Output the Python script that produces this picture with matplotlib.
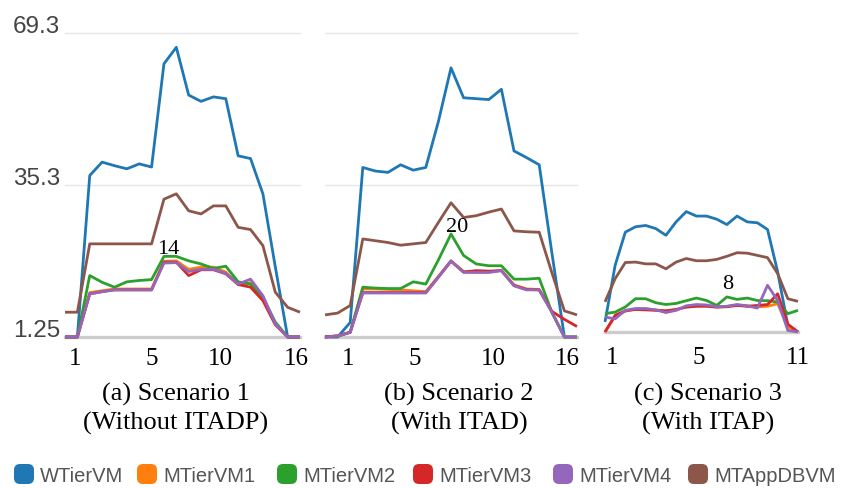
import numpy as np
import matplotlib
matplotlib.use('Agg')
import matplotlib.pyplot as plt
from matplotlib.patches import FancyBboxPatch

# ---------------- data ----------------
series_names = ['WTierVM', 'MTierVM1', 'MTierVM2', 'MTierVM3', 'MTierVM4', 'MTAppDBVM']
colors = ['#1f77b4', '#ff7f0e', '#2ca02c', '#d62728', '#9467bd', '#8c564b']

ytick_vals = [69.3, 35.3, 1.25]
ytick_labels = ['69.3', '35.3', '1.25']

# Scenario 1 (20 samples)
wtier_a = [1.25, 1.25, 37.4, 40.4, 39.6, 38.9, 40.0, 39.3, 62.4, 66.1, 55.4, 54.0, 55.0, 54.6, 41.8, 41.2, 33.3, 17.0, 1.25, 1.25]
m1_a = [1.25, 1.25, 11.2, 11.6, 12.0, 12.0, 12.0, 12.0, 18.2, 18.3, 16.4, 16.9, 16.9, 15.8, 13.0, 13.4, 10.2, 4.3, 1.25, 1.25]
m2_a = [1.25, 1.25, 15.0, 13.5, 12.4, 13.6, 13.9, 14.1, 19.3, 19.3, 18.3, 17.6, 16.6, 17.1, 13.6, 13.1, 10.1, 4.6, 1.25, 1.25]
m3_a = [1.25, 1.25, 10.9, 11.4, 11.8, 11.8, 11.8, 11.8, 18.0, 18.0, 15.0, 16.3, 16.3, 15.4, 13.0, 12.4, 9.4, 4.0, 1.25, 1.25]
m4_a = [1.25, 1.25, 10.9, 11.4, 11.8, 11.8, 11.8, 11.8, 17.8, 17.9, 15.9, 16.4, 16.4, 15.5, 13.1, 14.2, 10.5, 4.2, 1.25, 1.25]
app_a = [6.8, 6.8, 22.1, 22.1, 22.1, 22.1, 22.1, 22.1, 32.1, 33.3, 29.5, 28.8, 30.6, 30.6, 25.8, 25.3, 21.7, 11.3, 7.9, 6.8]

# Scenario 2 (21 samples)
wtier_b = [1.25, 1.25, 4.5, 39.2, 38.4, 38.1, 39.8, 38.6, 39.2, 49.5, 61.5, 54.8, 54.6, 54.4, 56.7, 42.9, 41.4, 39.8, 20.2, 1.25, 1.25]
m1_b = [1.25, 1.5, 2.3, 12.0, 12.0, 11.9, 11.8, 11.6, 11.4, 14.8, 18.3, 15.9, 15.8, 15.8, 16.2, 12.9, 12.0, 11.9, 6.9, 1.25, 1.25]
m2_b = [1.4, 1.4, 2.3, 12.4, 12.2, 12.1, 12.1, 13.6, 13.1, 18.5, 24.3, 19.5, 17.6, 17.2, 17.2, 14.2, 14.2, 14.4, 6.8, 1.25, 1.25]
m3_b = [1.25, 1.5, 2.3, 11.2, 11.2, 11.2, 11.2, 11.2, 11.2, 14.7, 18.2, 15.8, 16.1, 16.0, 16.1, 12.8, 11.9, 11.8, 7.0, 5.2, 3.6]
m4_b = [1.25, 1.5, 2.3, 11.1, 11.1, 11.1, 11.1, 11.1, 11.1, 14.6, 18.3, 15.7, 15.7, 15.7, 16.1, 12.7, 11.8, 11.8, 6.8, 1.25, 1.25]
app_b = [6.2, 6.6, 8.3, 23.2, 22.8, 22.4, 21.8, 22.1, 22.4, 26.9, 31.3, 28.0, 28.4, 29.2, 29.9, 25.0, 24.8, 24.7, 15.7, 7.1, 6.2]

# Scenario 3 (20 samples)
wtier_c = [3.5, 16.2, 23.6, 24.8, 25.1, 24.4, 22.9, 25.9, 28.2, 27.2, 27.2, 26.5, 25.3, 27.2, 25.9, 25.7, 24.2, 14.7, 2.7, 1.25]
m1_c = [1.25, 4.8, 5.9, 6.4, 6.4, 6.2, 5.9, 6.2, 7.0, 7.2, 7.2, 6.9, 7.0, 7.3, 7.1, 6.9, 7.0, 7.6, 2.4, 1.25]
m2_c = [5.35, 5.7, 6.85, 8.7, 8.7, 7.8, 7.4, 7.65, 8.25, 8.85, 8.3, 7.2, 9.1, 8.55, 8.85, 8.3, 8.25, 7.97, 5.35, 6.1]
m3_c = [1.25, 5.0, 6.0, 6.3, 6.2, 6.1, 6.0, 6.3, 6.8, 7.0, 7.0, 6.8, 6.9, 7.2, 7.0, 7.2, 7.4, 9.8, 3.0, 1.25]
m4_c = [4.6, 4.2, 6.1, 6.5, 6.5, 6.2, 5.6, 6.1, 7.1, 7.4, 7.3, 6.9, 7.0, 7.4, 7.1, 6.6, 11.7, 8.3, 1.6, 1.25]
app_c = [8.0, 13.2, 16.8, 16.9, 16.5, 16.5, 15.4, 16.9, 17.7, 17.2, 17.2, 17.5, 18.2, 19.0, 18.9, 18.4, 17.9, 14.3, 8.7, 8.1]

xtick_pos_a = [0.8, 7.0, 12.6, 18.7]
xtick_lab_a = ['1', '5', '10', '16']
xtick_pos_b = [1.8, 7.1, 13.4, 19.2]
xtick_lab_b = ['1', '5', '10', '16']
xtick_pos_c = [0.66, 9.2, 19.0]
xtick_lab_c = ['1', '5', '11']

annot_a = (8.33, 21.0, '14')
annot_b = (10.47, 26.0, '20')
annot_c = (12.1, 12.1, '8')

caption_a = ['(a) Scenario 1', '(Without ITADP)']
caption_b = ['(b) Scenario 2', '(With ITAD)']
caption_c = ['(c) Scenario 3', '(With ITAP)']

# ---------------- layout ----------------
W, H = 842, 489
fig = plt.figure(figsize=(W / 100, H / 100), dpi=100)
fig.patch.set_facecolor('white')
SERIF = 'Liberation Serif'
SANS = 'Liberation Sans'
PLOT_H = 304

def make_ax(left, right, base_px):
    ax = fig.add_axes([left / W, (H - base_px) / H, (right - left) / W, PLOT_H / H])
    ax.set_ylim(1.25, 69.3)
    for s in ax.spines.values():
        s.set_visible(False)
    ax.set_yticks([])
    ax.patch.set_alpha(0)
    return ax

panels = [
    (make_ax(65, 300, 338), [wtier_a, m1_a, m2_a, m3_a, m4_a, app_a], xtick_pos_a, xtick_lab_a, annot_a, True, 7),
    (make_ax(325, 577, 338), [wtier_b, m1_b, m2_b, m3_b, m4_b, app_b], xtick_pos_b, xtick_lab_b, annot_b, True, 7),
    (make_ax(605, 798, 333), [wtier_c, m1_c, m2_c, m3_c, m4_c, app_c], xtick_pos_c, xtick_lab_c, annot_c, False, 10),
]

for ax, data, tpos, tlab, annot, grid, pad in panels:
    n = len(data[0])
    ax.set_xlim(0, n - 1)
    if grid:
        for v in ytick_vals[:2]:
            ax.axhline(v, color='#e6e6e6', lw=1.0, zorder=1, clip_on=False)
    ax.axhline(1.25, color='#cccccc', lw=2.4, zorder=1, clip_on=False)
    x = np.arange(n)
    for vals, col in zip(data, colors):
        ax.plot(x, vals, color=col, lw=2.0, zorder=3, clip_on=False,
                solid_joinstyle='round', solid_capstyle='butt')
    ax.set_xticks(tpos)
    ax.set_xticklabels(tlab, fontfamily=SERIF, fontsize=18)
    ax.tick_params(axis='x', length=0, pad=pad)
    ax.text(annot[0], annot[1], annot[2], ha='center', va='center',
            fontfamily=SERIF, fontsize=16, zorder=5)

# overlay axes in pixel coords for labels, captions and legend
ov = fig.add_axes([0, 0, 1, 1])
ov.set_xlim(0, W)
ov.set_ylim(H, 0)
ov.axis('off')
ov.patch.set_alpha(0)

ax_a = panels[0][0]
for v, lab in zip(ytick_vals, ytick_labels):
    _, ypix = ax_a.transData.transform((0, v))
    ov.text(60, H - ypix - 1, lab, ha='right', va='baseline',
            fontfamily=SANS, fontsize=17.5, color='#444444')

cap_centers = [176, 459, 708]
for cx, cap in zip(cap_centers, [caption_a, caption_b, caption_c]):
    ov.text(cx, 394, cap[0], ha='center', va='center', fontfamily=SERIF, fontsize=19)
    ov.text(cx, 423, cap[1], ha='center', va='center', fontfamily=SERIF, fontsize=19)

legend_x = [14, 137, 277, 413, 553, 688]
for lx, name, col in zip(legend_x, series_names, colors):
    box = FancyBboxPatch((lx, 465), 20, 20, boxstyle='round,pad=0,rounding_size=6',
                         facecolor=col, edgecolor='none')
    ov.add_patch(box)
    ov.text(lx + 26, 476, name, ha='left', va='center', fontfamily=SANS,
            fontsize=14.5, color='#555555')

fig.savefig('out.png', dpi=100, facecolor='white')
